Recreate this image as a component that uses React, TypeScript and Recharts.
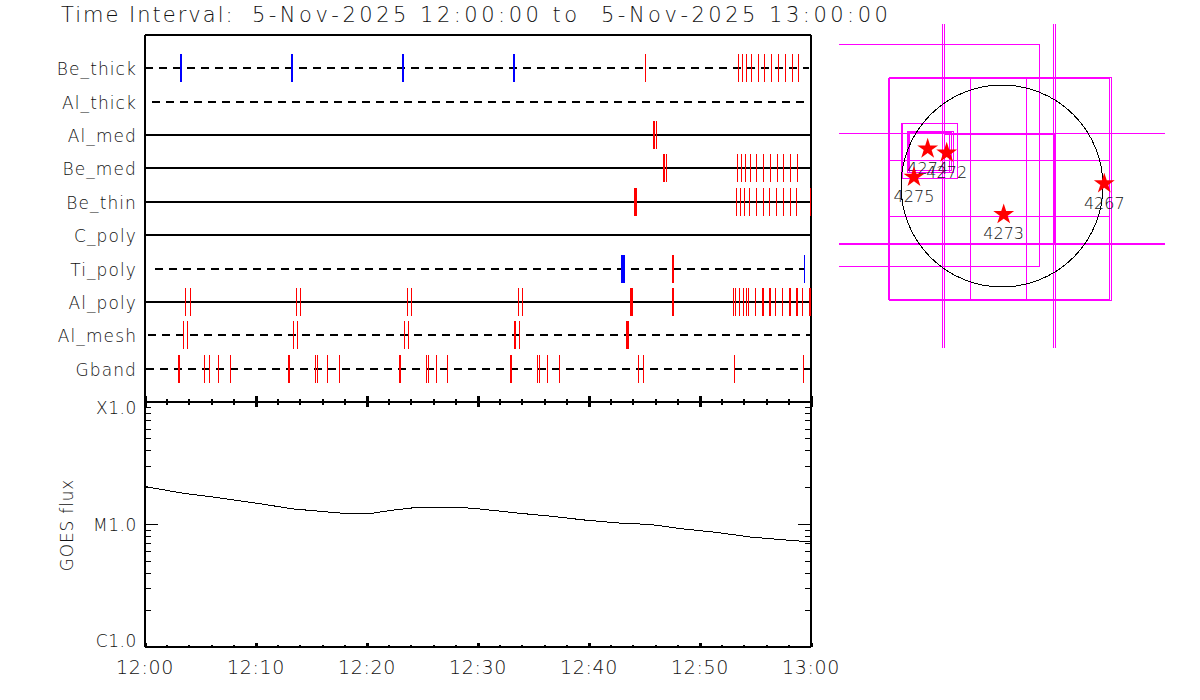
import { ComposedChart, Line, Scatter, XAxis, YAxis, ReferenceArea, ReferenceDot, Symbols } from "recharts";

// minutes after 12:00, [start, duration]
const beThickBlue = [[3.25, 0.18], [13.26, 0.18], [23.26, 0.18], [33.27, 0.18]];
const beThickRed = [[45.11, 0.09], [53.5, 0.09], [53.86, 0.09], [54.22, 0.09], [54.67, 0.09], [55.3, 0.09], [55.84, 0.09], [56.47, 0.09], [57.11, 0.09], [57.74, 0.09], [58.31, 0.09], [58.91, 0.09]];
const alMedRed = [[45.9, 0.18], [46.11, 0.09]];
const beMedRed = [[46.8, 0.18], [47.01, 0.09], [53.41, 0.09], [53.77, 0.09], [54.13, 0.09], [54.58, 0.09], [55.12, 0.09], [55.75, 0.09], [56.38, 0.09], [57.02, 0.09], [57.56, 0.09], [58.19, 0.09], [58.82, 0.09]];
const beThinRed = [[44.21, 0.27], [53.32, 0.09], [53.68, 0.09], [54.04, 0.09], [54.49, 0.09], [55.12, 0.09], [55.75, 0.09], [56.29, 0.09], [56.93, 0.09], [57.56, 0.09], [58.19, 0.09], [58.73, 0.09], [59.99, 0.09]];
const tiPolyBlue = [[43.1, 0.36], [59.45, 0.09]];
const tiPolyRed = [[47.61, 0.18]];
const alPolyRed = [[3.63, 0.09], [4.08, 0.09], [13.64, 0.09], [14.0, 0.09], [23.65, 0.09], [24.01, 0.09], [33.66, 0.09], [34.02, 0.09], [43.85, 0.27], [47.61, 0.18], [53.05, 0.09], [53.23, 0.09], [53.59, 0.09], [53.95, 0.09], [54.22, 0.09], [54.4, 0.09], [55.03, 0.09], [55.64, 0.18], [56.27, 0.18], [56.83, 0.09], [57.47, 0.09], [58.07, 0.18], [58.7, 0.18], [59.27, 0.09], [59.87, 0.18]];
const alMeshRed = [[3.45, 0.09], [3.81, 0.09], [13.37, 0.09], [13.73, 0.09], [23.38, 0.09], [23.74, 0.09], [33.36, 0.18], [33.75, 0.09], [43.49, 0.27]];
const gbandRed = [[3.07, 0.18], [5.35, 0.09], [5.8, 0.09], [6.61, 0.09], [7.69, 0.09], [12.98, 0.18], [15.36, 0.09], [15.54, 0.09], [16.44, 0.09], [17.52, 0.09], [22.97, 0.18], [25.37, 0.09], [25.55, 0.09], [26.27, 0.09], [27.26, 0.09], [33.0, 0.18], [35.37, 0.09], [35.55, 0.09], [36.27, 0.09], [37.35, 0.09], [44.48, 0.09], [44.93, 0.09], [53.14, 0.09], [59.36, 0.09]];

const instruments = ["Be_thick", "Al_thick", "Al_med", "Be_med", "Be_thin", "C_poly", "Ti_poly", "Al_poly", "Al_mesh", "Gband"];
const dashedRows = ["Be_thick", "Al_thick", "Ti_poly", "Al_mesh", "Gband"];
const rowStart = [0, 0.6, 0, 0, 0, 0, 0.9, 0, 0.3, 0.1];
const rowEnd = [59.8, 59.5, 60, 60, 60, 60, 59.5, 60, 60, 60];
const blueEvents = [beThickBlue, [], [], [], [], [], tiPolyBlue, [], [], []];
const redEvents = [beThickRed, [], alMedRed, beMedRed, beThinRed, [], tiPolyRed, alPolyRed, alMeshRed, gbandRed];

const timeTicks = [0, 2, 4, 6, 8, 10, 12, 14, 16, 18, 20, 22, 24, 26, 28, 30, 32, 34, 36, 38, 40, 42, 44, 46, 48, 50, 52, 54, 56, 58, 60];
const timeLabels = ["12:00", "12:10", "12:20", "12:30", "12:40", "12:50", "13:00"];

const goesTimes = [0, 3.43, 6.5, 10.1, 13.35, 17.6, 20.3, 22.36, 24.5, 27.5, 29.49, 33.54, 36.52, 39.5, 42.56, 45.54, 48.5, 51.58, 54.55, 57.53, 60];
const goesFlux = [2.04e-5, 1.8e-5, 1.66e-5, 1.49e-5, 1.34e-5, 1.24e-5, 1.23e-5, 1.31e-5, 1.38e-5, 1.38e-5, 1.36e-5, 1.24e-5, 1.17e-5, 1.09e-5, 1.03e-5, 1.0e-5, 9.2e-6, 8.6e-6, 7.9e-6, 7.5e-6, 7.2e-6];
const fluxTicks = [1e-6, 2e-6, 3e-6, 4e-6, 5e-6, 6e-6, 7e-6, 8e-6, 9e-6, 1e-5, 2e-5, 3e-5, 4e-5, 5e-5, 6e-5, 7e-5, 8e-5, 9e-5, 1e-4];
const fluxLabels: Record<string, string> = { "0.000001": "C1.0", "0.00001": "M1.0", "0.0001": "X1.0" };

// field of view boxes on the sun, arcsec: [x1, x2, y1, y2]
const fovBoxes = [
  [-2500, 351, -755, 1336],
  [-564, 480, -2500, 2500],
  [-546, 499, -2500, 2500],
  [-2500, 2500, -534, 496],
  [-2500, 2500, -543, 496],
  [-546, 492, -543, 487],
  [-1072, 1009, -1066, 1013],
  [-1062, 1028, -1072, 1023],
  [-298, 229, -1072, 1023],
  [-1072, 1009, -285, 242],
  [-953, -420, 72, 588],
  [-944, -420, 72, 588],
  [-896, -496, 135, 520],
  [-884, -477, 151, 508],
  [-872, -458, 135, 520],
];
const regionIds = ["4274", "4272", "4275", "4273", "4267"];
const regionX = [-699, -520, -828, 16, 962];
const regionY = [350, 312, 84, -268, 22];

const textStyle = { fontFamily: "'DejaVu Sans'", fontWeight: 200, fill: "#111" };
const PX_PER_MIN = 11.09;

const eventShape = (color: string) => (p: any) => {
  const w = Math.max(1, Math.round(p.dur * PX_PER_MIN));
  return <rect x={Math.round(p.cx - w / 2)} y={Math.round(p.cy) - 14} width={w} height={28} fill={color} shapeRendering="crispEdges" />;
};

const rowTick = (p: any) => (
  <text x={137} y={p.y + 7} textAnchor="end" fontSize={17} letterSpacing={1.1} {...textStyle}>
    {instruments[p.payload.value - 1]}
  </text>
);

// IDL style ticks pointing into the plot, longer every 10 minutes
const timeTick = (dir: number, height: number[], withLabel: boolean) => (p: any) => {
  const major = p.payload.value % 10 === 0;
  return (
    <g>
      <line x1={p.x} x2={p.x} y1={p.y} y2={p.y + dir * (major ? height[1] : height[0])} stroke="#000" strokeWidth={major ? 3 : 2} shapeRendering="crispEdges" />
      {withLabel && major ? (
        <text x={p.x} y={p.y + 27} textAnchor="middle" fontSize={19} letterSpacing={0.6} {...textStyle}>
          {timeLabels[p.payload.value / 10]}
        </text>
      ) : null}
    </g>
  );
};

const fluxTick = (dir: number, withLabel: boolean) => (p: any) => {
  const label = fluxLabels[String(p.payload.value)];
  const dy = p.payload.value === 1e-4 ? 12 : p.payload.value === 1e-6 ? 0 : 6;
  return (
    <g>
      <line x1={p.x} x2={p.x + dir * (label ? 13 : 6)} y1={p.y} y2={p.y} stroke="#000" strokeWidth={1} shapeRendering="crispEdges" />
      {withLabel && label ? (
        <text x={137} y={p.y + dy} textAnchor="end" fontSize={17} letterSpacing={0.6} {...textStyle}>
          {label}
        </text>
      ) : null}
    </g>
  );
};

const starShape = (p: any) => (
  <g>
    <Symbols cx={p.cx} cy={p.cy} type="star" size={135} fill="#ff0000" />
    <text x={p.cx} y={p.cy + 25} textAnchor="middle" fontSize={16} {...textStyle}>
      {p.id}
    </text>
  </g>
);

const boxShape = (p: any) => {
  const left = Math.round(p.x);
  const top = Math.round(p.y);
  return (
    <rect x={left + 0.5} y={top + 0.5} width={Math.round(p.x + p.width) - left} height={Math.round(p.y + p.height) - top} fill="none" stroke="#ff00ff" strokeWidth={1} shapeRendering="crispEdges" />
  );
};

const axisLine = { stroke: "#000", strokeWidth: 2, shapeRendering: "crispEdges" };

function EventsPanel() {
  return (
    <ComposedChart width={850} height={410} margin={{ top: 34, right: 0, bottom: 7, left: 0 }} style={{ position: "absolute", left: 0, top: 0 }}>
      <XAxis xAxisId="b" dataKey="t" type="number" domain={[0, 60]} ticks={timeTicks} interval={0} height={1} tickSize={0} tickMargin={0} axisLine={axisLine} tick={timeTick(-1, [3, 6], false)} />
      <XAxis xAxisId="t" dataKey="t" type="number" orientation="top" domain={[0, 60]} ticks={timeTicks} interval={0} height={1} tickSize={0} tickMargin={0} axisLine={axisLine} tick={timeTick(1, [4, 7], false)} />
      <YAxis yAxisId="l" dataKey="row" type="number" reversed domain={[0, 11]} ticks={[1, 2, 3, 4, 5, 6, 7, 8, 9, 10]} interval={0} width={145} tickSize={0} tickMargin={0} axisLine={axisLine} tick={rowTick} />
      <YAxis yAxisId="r" dataKey="row" type="number" reversed orientation="right" domain={[0, 11]} ticks={[]} width={39} tickSize={0} axisLine={axisLine} />
      {instruments.map((name, i) => (
        <Line
          key={name}
          xAxisId="b"
          yAxisId="l"
          data={[{ t: rowStart[i], row: i + 1 }, { t: rowEnd[i], row: i + 1 }]}
          dataKey="row"
          type="linear"
          dot={false}
          stroke="#000"
          strokeWidth={2}
          strokeDasharray={dashedRows.includes(name) ? "8 6" : undefined}
          shapeRendering="crispEdges"
          isAnimationActive={false}
        />
      ))}
      {instruments.map((name, i) => (
        <Scatter key={name + "-red"} xAxisId="b" yAxisId="l" data={redEvents[i].map((e) => ({ t: e[0], dur: e[1], row: i + 1 }))} dataKey="row" shape={eventShape("#ff0000")} isAnimationActive={false} />
      ))}
      {instruments.map((name, i) => (
        <Scatter key={name + "-blue"} xAxisId="b" yAxisId="l" data={blueEvents[i].map((e) => ({ t: e[0], dur: e[1], row: i + 1 }))} dataKey="row" shape={eventShape("#0000ff")} isAnimationActive={false} />
      ))}
    </ComposedChart>
  );
}

function GoesPanel() {
  const data = goesTimes.map((t, i) => ({ t, flux: goesFlux[i] }));
  return (
    <ComposedChart width={850} height={307} data={data} margin={{ top: 11, right: 0, bottom: 0, left: 0 }} style={{ position: "absolute", left: 0, top: 390 }}>
      <XAxis xAxisId="b" dataKey="t" type="number" domain={[0, 60]} ticks={timeTicks} interval={0} height={50} tickSize={0} tickMargin={0} axisLine={axisLine} tick={timeTick(-1, [2, 4], true)} />
      <XAxis xAxisId="t" dataKey="t" type="number" orientation="top" domain={[0, 60]} ticks={timeTicks} interval={0} height={1} tickSize={0} tickMargin={0} axisLine={axisLine} tick={timeTick(1, [3, 5], false)} />
      <YAxis yAxisId="l" type="number" scale="log" domain={[1e-6, 1e-4]} allowDataOverflow ticks={fluxTicks} interval={0} width={145} tickSize={0} tickMargin={0} axisLine={axisLine} tick={fluxTick(1, true)} />
      <YAxis yAxisId="r" type="number" scale="log" orientation="right" domain={[1e-6, 1e-4]} allowDataOverflow ticks={fluxTicks} interval={0} width={39} tickSize={0} tickMargin={0} axisLine={axisLine} tick={fluxTick(-1, false)} />
      <Line xAxisId="b" yAxisId="l" dataKey="flux" type="linear" dot={false} stroke="#000" strokeWidth={1} shapeRendering="crispEdges" isAnimationActive={false} />
      <text x={73} y={135} textAnchor="middle" fontSize={17} letterSpacing={0.8} transform="rotate(-90 73 135)" {...textStyle}>
        GOES flux
      </text>
    </ComposedChart>
  );
}

function SunPanel() {
  const regions = regionIds.map((id, i) => ({ id, x: regionX[i], y: regionY[i] }));
  return (
    <ComposedChart width={326} height={324} margin={{ top: 0, right: 0, bottom: 0, left: 0 }} style={{ position: "absolute", left: 839, top: 24, overflow: "visible" }}>
      <XAxis dataKey="x" type="number" domain={[-1533, 1533]} allowDataOverflow hide />
      <YAxis dataKey="y" type="number" domain={[-1524, 1524]} allowDataOverflow hide />
      <ReferenceDot x={0} y={0} r={101} fill="none" stroke="#000" strokeWidth={1} shapeRendering="crispEdges" ifOverflow="visible" />
      {fovBoxes.map((b, i) => (
        <ReferenceArea key={i} x1={b[0]} x2={b[1]} y1={b[2]} y2={b[3]} shape={boxShape} ifOverflow="hidden" />
      ))}
      <Scatter data={regions} dataKey="y" shape={starShape} isAnimationActive={false} />
    </ComposedChart>
  );
}

export default function App() {
  return (
    <div style={{ position: "absolute", left: 0, top: 0, width: 1200, height: 700 }}>
      <div style={{ position: "absolute", left: 61, top: 3, fontSize: 21, letterSpacing: 3.5, whiteSpace: "pre", fontFamily: "'DejaVu Sans'", fontWeight: 200, color: "#111" }}>
        <span style={{ letterSpacing: 2 }}>{"Time Interval:  "}</span>
        {"5-Nov-2025 12:00:00 to  5-Nov-2025 13:00:00"}
      </div>
      <EventsPanel />
      <GoesPanel />
      <SunPanel />
    </div>
  );
}
